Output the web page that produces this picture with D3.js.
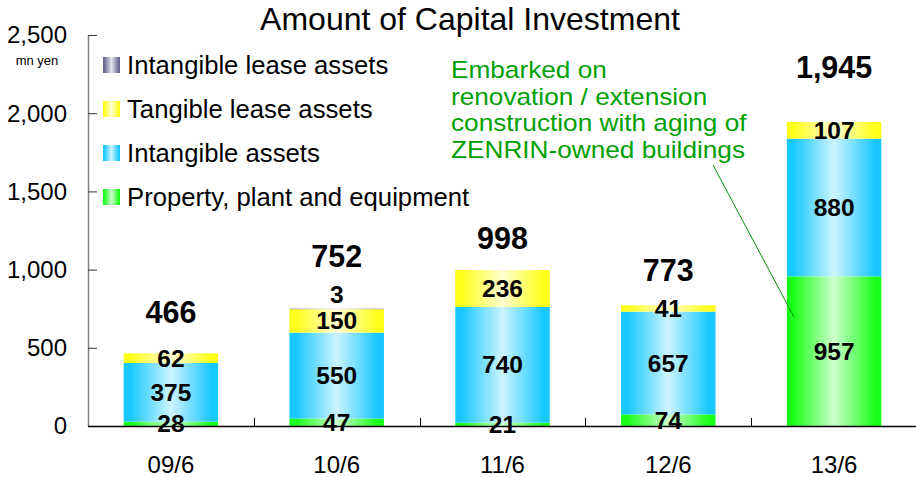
<!DOCTYPE html>
<html>
<head>
<meta charset="utf-8">
<script src="https://cdn.jsdelivr.net/npm/d3@7"></script>
<style>
  html, body { margin: 0; padding: 0; background: #fff; }
  svg { display: block; font-family: "Liberation Sans", Arial, sans-serif; }
</style>
</head>
<body>
<svg id="chart" width="916" height="477"></svg>
<script>
// ---- data ----
const categories = ["09/6", "10/6", "11/6", "12/6", "13/6"];
const ppe = [28, 47, 21, 74, 957];                 // Property, plant and equipment
const intangible = [375, 550, 740, 657, 880];      // Intangible assets
const tangibleLease = [62, 150, 236, 41, 107];     // Tangible lease assets
const intangibleLease = [0, 3, 0, 0, 0];           // Intangible lease assets
const totals = [466, 752, 998, 773, 1945];
const yTicks = [0, 500, 1000, 1500, 2000, 2500];
const seriesNames = ["Property, plant and equipment", "Intangible assets", "Tangible lease assets", "Intangible lease assets"];

// ---- layout ----
const svg = d3.select("#chart");
const plot = { left: 88, right: 917, top: 35, bottom: 426 };
const totalGap = [41, 52, 32, 35, 54];

const x = d3.scaleBand().domain(categories).range([plot.left, plot.right]).paddingInner(0.43).paddingOuter(0.215);
const xb = d3.scaleBand().domain(categories).range([plot.left, plot.right]);
const y = d3.scaleLinear().domain([0, 2500]).range([plot.bottom, plot.top]);

const keys = ["ppe", "intangible", "tangibleLease", "intangibleLease"];
const rows = categories.map((c, i) => ({ cat: c, ppe: ppe[i], intangible: intangible[i], tangibleLease: tangibleLease[i], intangibleLease: intangibleLease[i] }));
const stacked = d3.stack().keys(keys)(rows);

const palette = {
  ppe: { edge: "#1aff1a", mid: "#ccffcc" },
  intangible: { edge: "#19c8ff", mid: "#ccf4ff" },
  tangibleLease: { edge: "#ffff1a", mid: "#ffffd2" },
  intangibleLease: { edge: "#66668f", mid: "#e4e4f0" }
};

const defs = svg.append("defs");
keys.forEach(k => {
  const g = defs.append("linearGradient").attr("id", "g-" + k).attr("x1", "0%").attr("x2", "100%").attr("y1", "0%").attr("y2", "0%");
  [[0, palette[k].edge], [0.07, palette[k].edge], [0.5, palette[k].mid], [0.93, palette[k].edge], [1, palette[k].edge]]
    .forEach(([o, c]) => g.append("stop").attr("offset", o).attr("stop-color", c));
});

// title
svg.append("text").attr("x", 470).attr("y", 30).attr("text-anchor", "middle")
  .attr("font-size", 32).attr("fill", "#000").text("Amount of Capital Investment");

// y axis
const yAxis = svg.append("g").attr("transform", `translate(${plot.left},0)`)
  .call(d3.axisRight(y).tickValues(yTicks).tickSize(9).tickFormat(""));
yAxis.select(".domain").attr("stroke", "#808080").attr("stroke-width", 1.5).attr("d", `M0.5,${plot.top}V${plot.bottom}`);
yAxis.selectAll(".tick line").attr("stroke", "#333");
svg.append("g").selectAll("text").data(yTicks).join("text")
  .attr("x", 67).attr("y", d => y(d)).attr("dy", "0.35em").attr("text-anchor", "end")
  .attr("font-size", 24).attr("fill", "#000").text(d => d3.format(",")(d));
svg.append("text").attr("x", 37).attr("y", 65).attr("text-anchor", "middle").attr("font-size", 13).text("mn yen");

// bars
const layer = svg.append("g");
stacked.forEach(s => {
  layer.append("g").selectAll("rect").data(s).join("rect")
    .attr("x", d => x(d.data.cat)).attr("width", x.bandwidth())
    .attr("y", d => y(d[1])).attr("height", d => y(d[0]) - y(d[1]))
    .attr("fill", `url(#g-${s.key})`);
});

// x axis
const xAxis = svg.append("g").attr("transform", `translate(0,${plot.bottom})`);
xAxis.append("line").attr("x1", plot.left).attr("x2", 916).attr("y1", 0.5).attr("y2", 0.5).attr("stroke", "#000").attr("stroke-width", 1.3);
xAxis.selectAll("line.tk").data(categories.slice(1)).join("line").attr("class", "tk")
  .attr("x1", d => Math.round(xb(d)) + 0.5).attr("x2", d => Math.round(xb(d)) + 0.5).attr("y1", 0).attr("y2", -8).attr("stroke", "#000");
xAxis.selectAll("text").data(categories).join("text")
  .attr("x", d => xb(d) + xb.bandwidth() / 2).attr("y", 47).attr("text-anchor", "middle")
  .attr("font-size", 24).text(d => d);

// segment labels
const lab = svg.append("g").attr("font-weight", "bold").attr("font-size", 24.5).attr("text-anchor", "middle");
stacked.forEach(s => {
  s.forEach(d => {
    const v = d[1] - d[0];
    if (v <= 0) return;
    let cy = (y(d[0]) + y(d[1])) / 2;
    if (s.key === "intangibleLease") cy = y(d[1]) - 14;
    lab.append("text").attr("x", x(d.data.cat) + x.bandwidth() / 2).attr("y", cy).attr("dy", "0.35em").text(v);
  });
});
// totals
svg.append("g").selectAll("text").data(categories).join("text")
  .attr("x", d => x(d) + x.bandwidth() / 2)
  .attr("y", (d, i) => y(totals[i]) - totalGap[i]).attr("dy", "0.35em")
  .attr("text-anchor", "middle").attr("font-weight", "bold").attr("font-size", 30.5)
  .text((d, i) => d3.format(",")(totals[i]));

// legend
const legOrder = [3, 2, 1, 0];
const leg = svg.append("g");
legOrder.forEach((si, r) => {
  const cy = 65 + r * 44;
  leg.append("rect").attr("x", 103).attr("y", cy - 8).attr("width", 17).attr("height", 16).attr("fill", `url(#g-${keys[si]})`);
  leg.append("text").attr("x", 127).attr("y", cy).attr("dy", "0.35em").attr("font-size", 25.7).text(seriesNames[si]);
});

// annotation (glyphs stretched horizontally to match the reference's wide, tightly-leaded text)
const note = ["Embarked on", "renovation / extension", "construction with aging of", "ZENRIN-owned buildings"];
const noteText = svg.append("g").selectAll("text").data(note).join("text")
  .attr("x", 451).attr("y", (d, i) => 78 + i * 26.5).attr("font-size", 23.6).attr("fill", "#00a000").text(d => d);
noteText.each(function () {
  const w = this.getComputedTextLength();
  d3.select(this).attr("textLength", w * 1.11).attr("lengthAdjust", "spacingAndGlyphs");
});
svg.append("line").attr("x1", 713).attr("y1", 165).attr("x2", 794).attr("y2", 317).attr("stroke", "#008f00").attr("stroke-width", 1);
</script>
</body>
</html>
